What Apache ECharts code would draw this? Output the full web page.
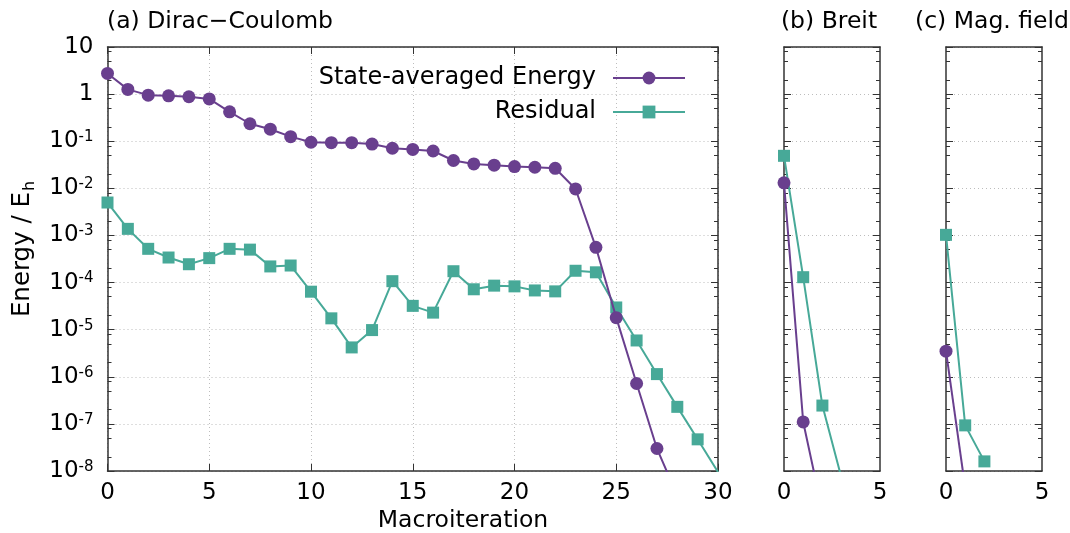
<!DOCTYPE html>
<html>
<head>
<meta charset="utf-8">
<script src="https://cdn.jsdelivr.net/npm/echarts@6/dist/echarts.min.js"></script>
<style>html,body{margin:0;padding:0;background:#fff;}#c{width:1070px;height:533px;}</style>
</head>
<body>
<div id="c"></div>
<script>
// ---------- data ----------
const iterA = [0,1,2,3,4,5,6,7,8,9,10,11,12,13,14,15,16,17,18,19,20,21,22,23,24,25,26,27,28,29,30];
const energyA = [2.75,1.26,0.95,0.92,0.88,0.79,0.42,0.235,0.18,0.125,0.095,0.093,0.093,0.087,0.071,0.067,0.062,0.039,0.033,0.031,0.029,0.028,0.0266,0.0097,5.6e-4,1.8e-5,7.2e-7,3.0e-8,3.0e-9];
const residualA = [5.0e-3,1.38e-3,5.2e-4,3.4e-4,2.45e-4,3.3e-4,5.2e-4,5.0e-4,2.2e-4,2.3e-4,6.4e-5,1.74e-5,4.2e-6,9.8e-6,1.07e-4,3.2e-5,2.3e-5,1.74e-4,7.2e-5,8.6e-5,8.3e-5,6.8e-5,6.5e-5,1.78e-4,1.65e-4,2.96e-5,5.9e-6,1.14e-6,2.3e-7,4.7e-8,9.5e-9];
const iterB = [0,1,2,3];
const energyB = [0.0131,1.1e-7,1.4e-9];
const residualB = [0.049,1.3e-4,2.45e-7,7e-9];
const iterC = [0,1,2];
const energyC = [3.5e-6,4.4e-9];
const residualC = [1.03e-3,9.3e-8,1.6e-8];
const seriesNames = ['State-averaged Energy','Residual'];
const panelTitles = ['(a) Dirac\u2212Coulomb','(b) Breit','(c) Mag. field'];
const xAxisTitle = 'Macroiteration';
const yAxisTitle = 'Energy / E{sub|h}';
const minorMantissas = [2,5,8];
const yMinExp = -8, yMaxExp = 1;

// ---------- style ----------
const FONT = '"DejaVu Sans", "Liberation Sans", sans-serif';
const PURPLE = '#693f8e';
const TEAL = '#47a998';
const AXIS = '#333';
const GRIDC = '#bdbdbd';
const GRIDTYPE = [1, 3];

const minorLogVals = [];
for (let d = yMinExp; d < yMaxExp; d++) {
  minorMantissas.forEach(m => minorLogVals.push(d + Math.log10(m)));
}

function pairs(xs, ys) { return ys.map((v, i) => [xs[i], v]); }

const grids = [
  {left: 107.5, top: 47, width: 610.5, height: 424},
  {left: 784, top: 47, width: 96, height: 424},
  {left: 946, top: 47, width: 96, height: 424}
].map(g => Object.assign({outerBoundsMode: 'none', containLabel: false}, g));

const xAxes = [];
const yAxes = [];
const xMax = [30, 5, 5];
for (let g = 0; g < 3; g++) {
  xAxes.push({
    type: 'value', gridIndex: g, position: 'bottom', min: 0, max: xMax[g], interval: 5,
    axisLine: {show: true, onZero: false, lineStyle: {color: AXIS, width: 1.5}},
    axisTick: {show: g === 0, inside: true, length: 7, lineStyle: {color: AXIS, width: 1}},
    axisLabel: {show: true, margin: 11, color: '#000', fontSize: 23, fontFamily: FONT},
    splitLine: {show: g === 0, lineStyle: {color: GRIDC, type: GRIDTYPE, width: 1}}
  });
  xAxes.push({
    type: 'value', gridIndex: g, position: 'top', min: 0, max: xMax[g], interval: 5,
    axisLine: {show: true, onZero: false, lineStyle: {color: AXIS, width: 1.5}},
    axisTick: {show: g === 0, inside: true, length: 7, lineStyle: {color: AXIS, width: 1}},
    axisLabel: {show: false}, splitLine: {show: false}
  });
  yAxes.push({
    type: 'log', logBase: 10, gridIndex: g, position: 'left',
    min: Math.pow(10, yMinExp), max: Math.pow(10, yMaxExp), interval: 1,
    axisLine: {show: true, onZero: false, lineStyle: {color: AXIS, width: 1.5}},
    axisTick: {show: true, inside: true, length: 7, lineStyle: {color: AXIS, width: 1}},
    axisLabel: {
      show: g === 0, margin: 14, color: '#000', fontFamily: FONT,
      formatter: function (v) {
        const e = Math.round(Math.log10(v));
        if (e === 1) return '{b|10}';
        if (e === 0) return '{b|1}';
        return '{b|10}{s|' + e + '}';
      },
      rich: {
        b: {fontSize: 23, lineHeight: 23, fontFamily: FONT, color: '#000', verticalAlign: 'bottom'},
        s: {fontSize: 15, lineHeight: 15, fontFamily: FONT, color: '#000', verticalAlign: 'top', padding: [0, 0, 12, 0]}
      }
    },
    splitLine: {show: true, lineStyle: {color: GRIDC, type: GRIDTYPE, width: 1}}
  });
  yAxes.push({
    type: 'log', logBase: 10, gridIndex: g, position: 'right',
    min: Math.pow(10, yMinExp), max: Math.pow(10, yMaxExp), interval: 1,
    axisLine: {show: true, onZero: false, lineStyle: {color: AXIS, width: 1.5}},
    axisTick: {show: true, inside: true, length: 7, lineStyle: {color: AXIS, width: 1}},
    axisLabel: {show: false}, splitLine: {show: false}
  });
  ['left', 'right'].forEach(pos => {
    yAxes.push({
      type: 'value', gridIndex: g, position: pos, min: yMinExp, max: yMaxExp,
      axisLine: {show: false, onZero: false},
      axisTick: {show: true, inside: true, length: 4, customValues: minorLogVals, lineStyle: {color: AXIS, width: 1}},
      axisLabel: {show: false}, splitLine: {show: false}
    });
  });
}

function mkSeries(name, g, xs, ys) {
  const isE = name === seriesNames[0];
  return {
    name: name, type: 'line', xAxisIndex: g * 2, yAxisIndex: g * 4,
    data: pairs(xs, ys), clip: true,
    symbol: isE ? 'circle' : 'rect', symbolSize: isE ? 13 : 12,
    showAllSymbol: true,
    z: isE ? 4 : 3,
    lineStyle: {color: isE ? PURPLE : TEAL, width: 2},
    itemStyle: {color: isE ? PURPLE : TEAL},
    emphasis: {disabled: true},
    animation: false
  };
}

const series = [
  mkSeries(seriesNames[1], 0, iterA, residualA),
  mkSeries(seriesNames[0], 0, iterA, energyA),
  mkSeries(seriesNames[1], 1, iterB, residualB),
  mkSeries(seriesNames[0], 1, iterB, energyB),
  mkSeries(seriesNames[1], 2, iterC, residualC),
  mkSeries(seriesNames[0], 2, iterC, energyC)
];

const legendCommon = {
  right: 384, padding: 0, itemWidth: 72, itemHeight: 16, align: 'right',
  selectedMode: false,
  textStyle: {fontSize: 24, fontFamily: FONT, color: '#000', lineHeight: 24, padding: [0, 12, 0, 0]}
};

const textStyleBase = {fontSize: 23.5, fontFamily: FONT, fill: '#000'};
const graphic = [
  {type: 'text', x: 220, y: 22, style: Object.assign({text: panelTitles[0], align: 'center', verticalAlign: 'middle'}, textStyleBase)},
  {type: 'text', x: 829, y: 22, style: Object.assign({text: panelTitles[1], align: 'center', verticalAlign: 'middle'}, textStyleBase)},
  {type: 'text', x: 992, y: 22, style: Object.assign({text: panelTitles[2], align: 'center', verticalAlign: 'middle'}, textStyleBase)},
  {type: 'text', x: 463, y: 521, style: Object.assign({text: xAxisTitle, align: 'center', verticalAlign: 'middle'}, textStyleBase)},
  {type: 'text', x: 23, y: 249, rotation: Math.PI / 2,
   style: Object.assign({text: yAxisTitle, align: 'center', verticalAlign: 'middle',
     rich: {sub: {fontSize: 16, fontFamily: FONT, fill: '#000', lineHeight: 16, verticalAlign: 'top', padding: [11, 0, 0, 1]}}
   }, textStyleBase, {fontSize: 24.5})}
];

const chart = echarts.init(document.getElementById('c'), null, {renderer: 'canvas'});
chart.setOption({
  animation: false,
  backgroundColor: '#fff',
  grid: grids,
  xAxis: xAxes,
  yAxis: yAxes,
  legend: [
    Object.assign({data: [seriesNames[0]], top: 66}, legendCommon),
    Object.assign({data: [seriesNames[1]], top: 100}, legendCommon)
  ],
  graphic: graphic,
  series: series
});
</script>
</body>
</html>
